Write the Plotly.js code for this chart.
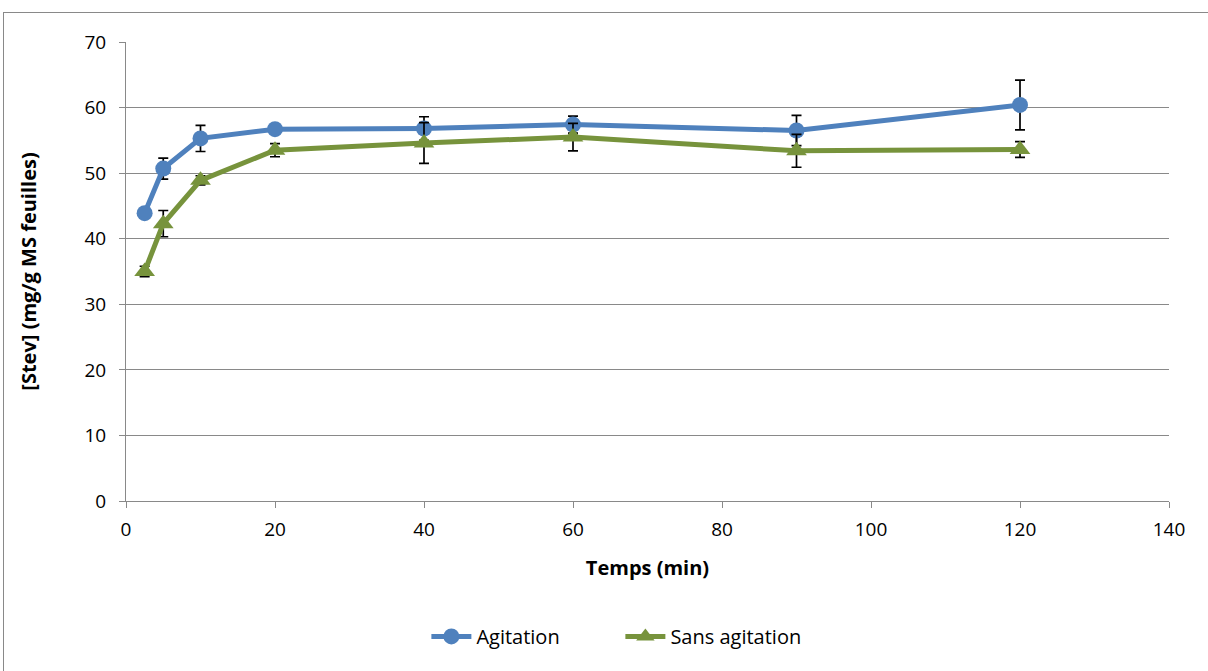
<!DOCTYPE html>
<html>
<head>
<meta charset="utf-8">
<script src="https://cdn.plot.ly/plotly-3.0.1.min.js"></script>
<style>
html,body{margin:0;padding:0;background:#fff;}
#wrap{position:relative;width:1208px;height:671px;overflow:hidden;}
#chart{width:1208px;height:671px;}
#frame{position:absolute;left:3px;top:12px;width:1215px;height:680px;border:1px solid #898989;pointer-events:none;}
</style>
</head>
<body>
<div id="wrap"><div id="chart"></div><div id="frame"></div></div>
<script>
const temps = [2.5, 5, 10, 20, 40, 60, 90, 120];
const agitation = [43.9, 50.7, 55.3, 56.7, 56.8, 57.4, 56.5, 60.4];
const agitationErr = [0.4, 1.6, 2.0, 0.3, 1.8, 1.3, 2.3, 3.8];
const sansAgitation = [35.0, 42.3, 48.9, 53.5, 54.6, 55.5, 53.4, 53.6];
const sansAgitationErr = [0.8, 2.0, 0.7, 1.0, 3.1, 2.1, 2.5, 1.2];
const seriesNames = ['Agitation', 'Sans agitation'];

const font = '"Open Sans", "Noto Sans", "Liberation Sans", sans-serif';

const traces = [
  {
    x: temps, y: agitation, name: seriesNames[0], type: 'scatter', mode: 'lines+markers',
    line: {color: '#4F81BD', width: 5},
    marker: {symbol: 'circle', size: 16, color: '#4F81BD'},
    error_y: {type: 'data', array: agitationErr, visible: true, color: '#000', thickness: 1.7, width: 5}
  },
  {
    x: temps, y: sansAgitation, name: seriesNames[1], type: 'scatter', mode: 'lines+markers',
    line: {color: '#77933C', width: 5},
    marker: {symbol: 'triangle-up', size: 18, color: '#77933C'},
    error_y: {type: 'data', array: sansAgitationErr, visible: true, color: '#000', thickness: 1.7, width: 5}
  }
];

const layout = {
  width: 1208, height: 671,
  margin: {l: 126, r: 39, t: 42, b: 170},
  paper_bgcolor: '#fff', plot_bgcolor: '#fff',
  font: {family: font, size: 19, color: '#000'},
  showlegend: true,
  legend: {orientation: 'h', x: 0.474, xanchor: 'center', y: -0.295, yanchor: 'middle',
           font: {size: 20}, itemwidth: 40, entrywidth: 139, entrywidthmode: 'pixels'},
  xaxis: {
    range: [0, 140], dtick: 20, tick0: 0,
    showgrid: false, zeroline: false,
    showline: true, linecolor: '#898989', linewidth: 1,
    ticks: 'outside', ticklen: 6, tickcolor: '#898989',
    ticklabelstandoff: 5,
    tickfont: {size: 19},
    title: {text: '<b>Temps (min)</b>', font: {size: 20}, standoff: 20}
  },
  yaxis: {
    range: [0, 70], dtick: 10, tick0: 0,
    showgrid: true, gridcolor: '#898989', gridwidth: 1,
    zeroline: false,
    showline: true, linecolor: '#898989', linewidth: 1,
    ticks: 'outside', ticklen: 6, tickcolor: '#898989',
    ticklabelstandoff: 9,
    tickfont: {size: 19},
    title: {text: '<b>[Stev] (mg/g MS feuilles)</b>', font: {size: 20}, standoff: 42}
  }
};

Plotly.newPlot('chart', traces, layout, {displayModeBar: false, staticPlot: true});
</script>
</body>
</html>
